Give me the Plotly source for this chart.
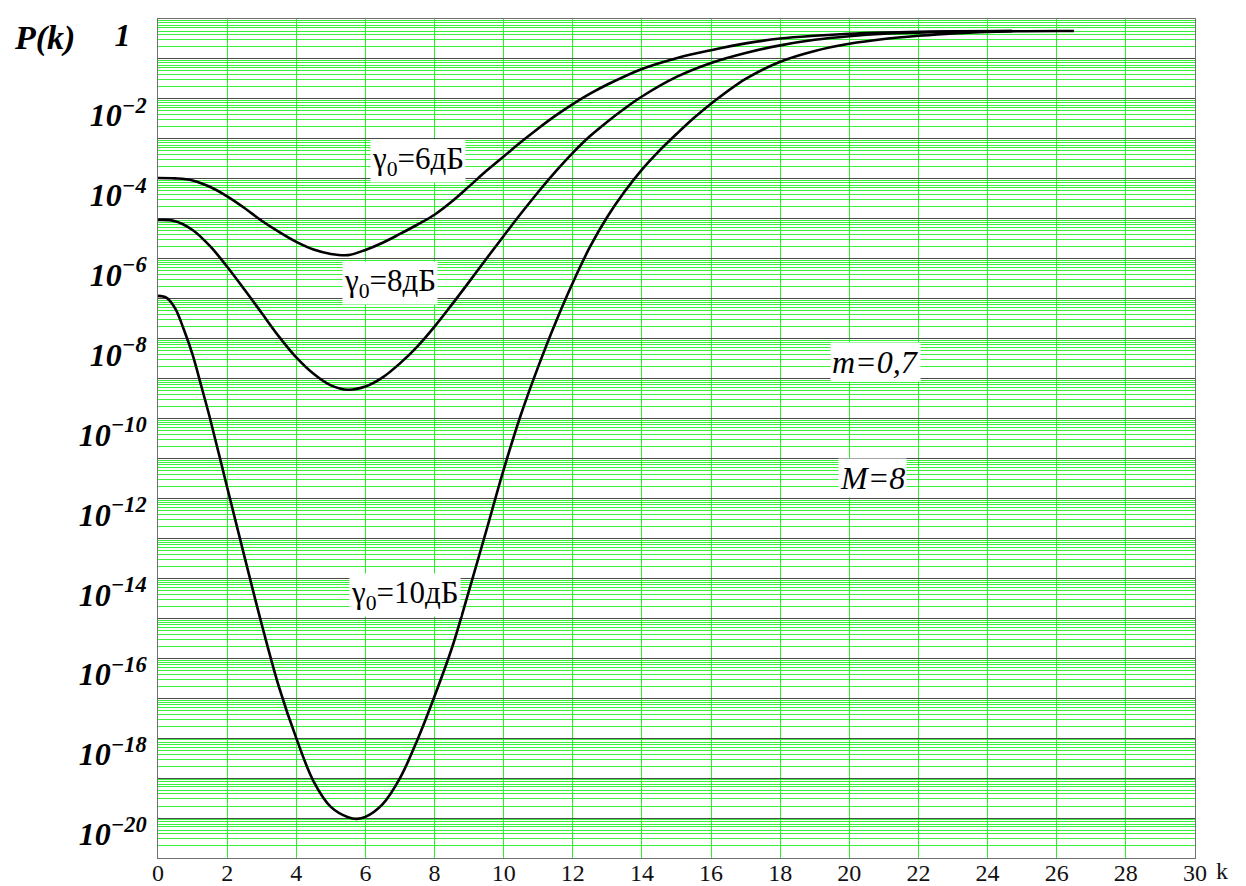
import plotly.graph_objects as go

# ---- data (P values given as log10 exponents) ----
k_6db = [0, 0.5, 1.0, 1.5, 2.0, 2.5, 3.0, 3.5, 4.0, 4.5, 5.0, 5.5, 6.0, 6.5, 7.0, 7.5, 8.0,
         8.5, 9.0, 9.5, 10.0, 10.5, 11.0, 11.5, 12.0, 12.5, 13.0, 14.0, 15.0, 16.0, 17.0,
         18.0, 19.0, 20.0, 21.0, 22.0, 23.0, 24.7]
lg_6db = [-3.98, -3.99, -4.04, -4.20, -4.44, -4.73, -5.05, -5.33, -5.58, -5.77, -5.88, -5.91,
          -5.78, -5.60, -5.38, -5.15, -4.90, -4.57, -4.19, -3.80, -3.44, -3.08, -2.74, -2.42,
          -2.13, -1.87, -1.64, -1.25, -0.98, -0.78, -0.61, -0.49, -0.42, -0.37, -0.34, -0.32,
          -0.31, -0.30]

k_8db = [0, 0.5, 1.0, 1.5, 2.0, 2.5, 3.0, 3.5, 4.0, 4.5, 5.0, 5.5, 6.0, 6.5, 7.0, 7.5, 8.0,
         8.5, 9.0, 9.5, 10.0, 10.5, 11.0, 11.5, 12.0, 12.5, 13.0, 13.5, 14.0, 15.0, 16.0,
         17.0, 18.0, 19.0, 20.0, 21.0, 22.0, 23.0, 24.7]
lg_8db = [-5.03, -5.06, -5.28, -5.68, -6.20, -6.77, -7.36, -7.95, -8.47, -8.88, -9.17, -9.28,
          -9.20, -8.97, -8.62, -8.20, -7.70, -7.15, -6.58, -6.00, -5.43, -4.87, -4.33, -3.82,
          -3.35, -2.93, -2.57, -2.24, -1.94, -1.45, -1.10, -0.85, -0.66, -0.52, -0.43, -0.37,
          -0.34, -0.32, -0.30]

k_10db = [0, 0.25, 0.5, 0.75, 1.0, 1.25, 1.5, 2.0, 2.5, 3.0, 3.5, 4.0, 4.5, 5.0, 5.5, 5.75,
          6.0, 6.5, 7.0, 7.5, 8.0, 8.5, 9.0, 9.5, 10.0, 10.5, 11.0, 11.5, 12.0, 12.5, 13.0,
          13.5, 14.0, 14.5, 15.0, 15.5, 16.0, 17.0, 18.0, 19.0, 20.0, 21.0, 22.0, 23.0, 24.5,
          26.5]
lg_10db = [-6.93, -6.98, -7.25, -7.78, -8.40, -9.18, -9.98, -11.72, -13.45, -15.15, -16.72,
           -18.00, -19.08, -19.72, -19.98, -20.02, -19.97, -19.65, -19.00, -18.05, -16.95,
           -15.75, -14.30, -12.80, -11.28, -9.90, -8.70, -7.60, -6.60, -5.70, -4.95, -4.32,
           -3.77, -3.30, -2.88, -2.48, -2.12, -1.50, -1.07, -0.80, -0.62, -0.50, -0.42, -0.36,
           -0.31, -0.30]

x_ticks = list(range(0, 31, 2))
decade_exps = list(range(0, -22, -1))
labelled_exps = list(range(0, -21, -2))

curve_names = ["γ0=6дБ", "γ0=8дБ", "γ0=10дБ"]

# ---- figure ----
SERIF = "'Liberation Serif', 'Times New Roman', Times, serif"
fig = go.Figure()
for name, kk, lg in [(curve_names[0], k_6db, lg_6db),
                     (curve_names[1], k_8db, lg_8db),
                     (curve_names[2], k_10db, lg_10db)]:
    fig.add_trace(go.Scatter(x=kk, y=[10 ** v for v in lg], mode="lines", name=name,
                             line=dict(color="black", width=2.6, shape="spline", smoothing=1.0),
                             showlegend=False))

def ytext(e):
    if e == 0:
        return "1\u2002"
    if e in labelled_exps:
        return "10<sup>\u2212%d</sup>" % (-e)
    return ""

minor_vals = [m * 10.0 ** e for e in decade_exps[1:] for m in range(2, 10)]

fig.update_yaxes(
    type="log", range=[-21, 0], automargin=False,
    tickmode="array", tickvals=[10.0 ** e for e in decade_exps],
    ticktext=[ytext(e) for e in decade_exps],
    tickfont=dict(family=SERIF, size=32, color="black", weight="bold", style="italic"),
    ticks="", ticklabelshift=16, ticklabelstandoff=4,
    showgrid=True, gridcolor="#4a4a4a", gridwidth=1,
    minor=dict(tickmode="array", tickvals=minor_vals, showgrid=True,
               gridcolor="#3af03a", gridwidth=1, ticks=""),
    showline=True, linecolor="#707070", linewidth=1, mirror=True, zeroline=False,
)
fig.update_xaxes(
    range=[0, 30], automargin=False, tickmode="array", tickvals=x_ticks,
    ticktext=[str(v) for v in x_ticks],
    tickfont=dict(family=SERIF, size=24, color="#111111"),
    ticks="", ticklen=0, ticklabelstandoff=-7, showgrid=True, gridcolor="#2cf02c", gridwidth=1,
    showline=True, linecolor="#707070", linewidth=1, mirror=True, zeroline=False,
)

ann_font = dict(family=SERIF, size=31, color="black")
ital_font = dict(family=SERIF, size=32, color="black", style="italic")
annots = [
    (7.52, -3.55, "γ<sub>0</sub>=6дБ", ann_font),
    (6.71, -6.61, "γ<sub>0</sub>=8дБ", ann_font),
    (7.14, -14.42, "γ<sub>0</sub>=10дБ", ann_font),
    (20.77, -8.59, "m=0,7", ital_font),
    (20.68, -11.49, "M=8", ital_font),
]
for ax_, ay_, txt, fnt in annots:
    fig.add_annotation(x=ax_, y=ay_, xref="x", yref="y", text=txt, showarrow=False,
                       font=fnt, bgcolor="white", borderpad=1)

fig.add_annotation(x=-0.141, y=0.977, xref="paper", yref="paper", xanchor="left",
                   yanchor="middle", text="P(k)", showarrow=False,
                   font=dict(family=SERIF, size=34, color="black", weight="bold", style="italic"))
fig.add_annotation(x=1.026, y=-0.015, xref="paper", yref="paper", xanchor="center",
                   yanchor="middle", text="k", showarrow=False,
                   font=dict(family=SERIF, size=24, color="#111111"))

fig.update_layout(
    width=1246, height=886, autosize=False,
    margin=dict(l=158, r=51, t=19, b=28),
    plot_bgcolor="white", paper_bgcolor="white",
)

# remove the default 8px page margin so the figure fills the 1246x886 window exactly
fig.write_html("out.html", config={"displayModeBar": False},
               post_script="document.body.style.margin='0px';document.body.style.overflow='hidden';")
